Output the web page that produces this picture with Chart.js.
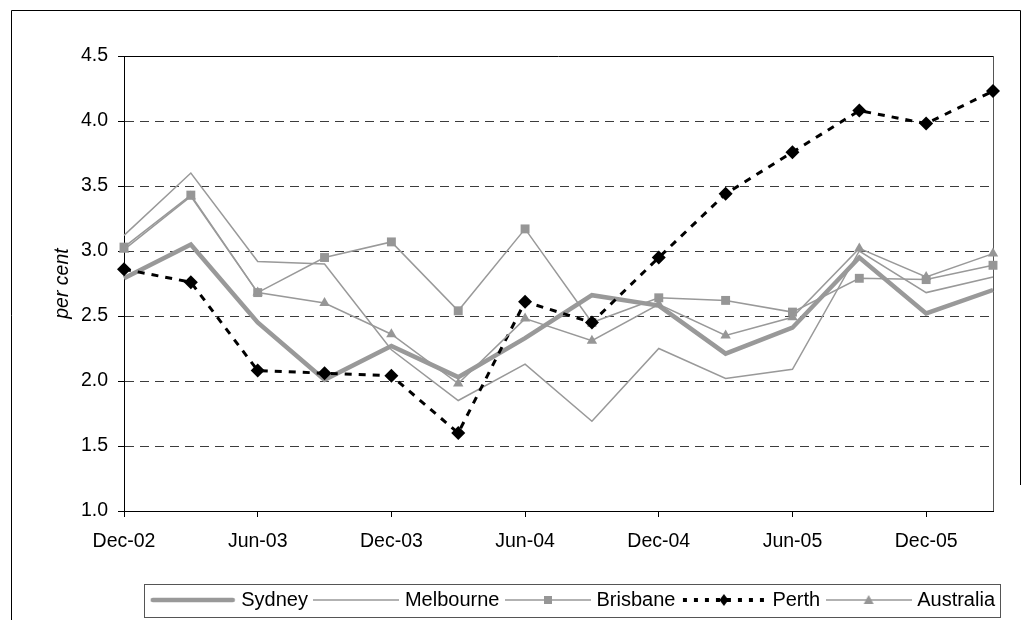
<!DOCTYPE html>
<html>
<head>
<meta charset="utf-8">
<script src="https://cdn.jsdelivr.net/npm/chart.js@4/dist/chart.umd.min.js"></script>
<style>
  html, body { margin: 0; padding: 0; background: #ffffff; }
  canvas { display: block; }
</style>
</head>
<body>
<canvas id="chart" width="1030" height="620"></canvas>
<script>
// Quarterly categories, Dec-02 to Mar-06
const quarters = ['Dec-02', 'Mar-03', 'Jun-03', 'Sep-03', 'Dec-03', 'Mar-04', 'Jun-04',
                  'Sep-04', 'Dec-04', 'Mar-05', 'Jun-05', 'Sep-05', 'Dec-05', 'Mar-06'];
// Category labels printed under the axis (every second quarter)
const shownQuarterTicks = ['Dec-02', 'Jun-03', 'Dec-03', 'Jun-04', 'Dec-04', 'Jun-05', 'Dec-05'];
// Value axis ticks (per cent)
const yTickValues = [1.0, 1.5, 2.0, 2.5, 3.0, 3.5, 4.0, 4.5];

// Series, per cent
const sydney    = [2.79, 3.05, 2.45, 2.01, 2.27, 2.03, 2.33, 2.66, 2.58, 2.21, 2.41, 2.95, 2.52, 2.70];
const melbourne = [3.12, 3.60, 2.92, 2.90, 2.24, 1.85, 2.13, 1.69, 2.25, 2.02, 2.09, 3.00, 2.68, 2.80];
const brisbane  = [3.03, 3.43, 2.68, 2.95, 3.07, 2.54, 3.17, 2.45, 2.64, 2.62, 2.53, 2.79, 2.78, 2.89];
const perth     = [2.86, 2.76, 2.08, 2.06, 2.04, 1.60, 2.61, 2.45, 2.95, 3.44, 3.76, 4.08, 3.98, 4.23];
const australia = [3.01, 3.42, 2.68, 2.60, 2.36, 1.98, 2.48, 2.31, 2.59, 2.35, 2.49, 3.02, 2.80, 2.98];

const FONT = "'Liberation Sans', Arial, Helvetica, sans-serif";
const GREY = '#999999';
const MARK = '#969696';

// Legend samples: line segment with the series marker in the middle
const SAMPLE_BOX = 77;
const SAMPLE_W = SAMPLE_BOX + 9;
function legendSample(draw) {
  const c = document.createElement('canvas');
  c.width = SAMPLE_W;
  c.height = 16;
  const g = c.getContext('2d');
  draw(g, c.width, c.height / 2);
  return c;
}
const samples = [
  legendSample((g, w, m) => {
    g.strokeStyle = GREY; g.lineWidth = 4.5; g.lineCap = 'round';
    g.beginPath(); g.moveTo(3, m); g.lineTo(w - 3, m); g.stroke();
  }),
  legendSample((g, w, m) => {
    g.strokeStyle = GREY; g.lineWidth = 1.5;
    g.beginPath(); g.moveTo(0, m); g.lineTo(w, m); g.stroke();
  }),
  legendSample((g, w, m) => {
    g.strokeStyle = GREY; g.lineWidth = 1.5;
    g.beginPath(); g.moveTo(0, m); g.lineTo(w, m); g.stroke();
    g.fillStyle = MARK; g.fillRect(w / 2 - 4, m - 4, 8, 8);
  }),
  legendSample((g, w, m) => {
    g.strokeStyle = '#000'; g.lineWidth = 4; g.setLineDash([4, 7]);
    g.beginPath(); g.moveTo(2, m); g.lineTo(w, m); g.stroke();
    g.fillStyle = '#000';
    g.beginPath(); g.moveTo(w / 2, m - 6); g.lineTo(w / 2 + 4.5, m); g.lineTo(w / 2, m + 6); g.lineTo(w / 2 - 4.5, m); g.closePath(); g.fill();
  }),
  legendSample((g, w, m) => {
    g.strokeStyle = GREY; g.lineWidth = 1.5;
    g.beginPath(); g.moveTo(0, m); g.lineTo(w, m); g.stroke();
    g.fillStyle = MARK;
    g.beginPath(); g.moveTo(w / 2, m - 5); g.lineTo(w / 2 + 5, m + 4); g.lineTo(w / 2 - 5, m + 4); g.closePath(); g.fill();
  })
];

// Outer frame of the chart object, white page behind it
const outerFrame = {
  id: 'outerFrame',
  beforeDraw(chart) {
    const ctx = chart.ctx;
    ctx.save();
    ctx.fillStyle = '#ffffff';
    ctx.fillRect(0, 0, chart.width, chart.height);
    ctx.strokeStyle = '#000';
    ctx.lineWidth = 1;
    ctx.beginPath();
    ctx.moveTo(11.5, chart.height);
    ctx.lineTo(11.5, 10.5);
    ctx.lineTo(1020.5, 10.5);
    ctx.lineTo(1020.5, 485);
    ctx.stroke();
    ctx.restore();
  }
};

// Top and right edges of the plot area
const plotFrame = {
  id: 'plotFrame',
  beforeDatasetsDraw(chart) {
    const {ctx, chartArea: a} = chart;
    ctx.save();
    ctx.lineWidth = 1;
    ctx.strokeStyle = '#000';
    ctx.beginPath();
    ctx.moveTo(a.left, Math.round(a.top) + 0.5);
    ctx.lineTo(a.right, Math.round(a.top) + 0.5);
    ctx.stroke();
    ctx.strokeStyle = '#555';
    ctx.beginPath();
    ctx.moveTo(Math.round(a.right) + 0.5, a.top);
    ctx.lineTo(Math.round(a.right) + 0.5, a.bottom);
    ctx.stroke();
    ctx.restore();
  }
};

// Box round the legend entries
const legendFrame = {
  id: 'legendFrame',
  afterDraw(chart) {
    const hb = chart.legend && chart.legend.legendHitBoxes;
    if (!hb || !hb.length) return;
    const first = hb[0], last = hb[hb.length - 1];
    const left = Math.round(first.left - (SAMPLE_W - SAMPLE_BOX) / 2 - 6) + 0.5;
    const right = Math.round(last.left + last.width + 5) + 0.5;
    const mid = first.top + first.height / 2;
    const top = Math.round(mid - 16) + 0.5;
    const bottom = Math.round(mid + 17) + 0.5;
    const ctx = chart.ctx;
    ctx.save();
    ctx.strokeStyle = '#555';
    ctx.lineWidth = 1;
    ctx.strokeRect(left, top, right - left, bottom - top);
    ctx.restore();
  }
};

const thin = { borderColor: GREY, backgroundColor: MARK, borderWidth: 1.5 };

new Chart(document.getElementById('chart'), {
  type: 'line',
  data: {
    labels: quarters,
    datasets: [
      { label: 'Sydney', data: sydney, order: 5, borderColor: GREY, borderWidth: 4.5,
        pointRadius: 0, pointHoverRadius: 0 },
      { label: 'Melbourne', data: melbourne, order: 4, ...thin,
        pointRadius: 0, pointHoverRadius: 0 },
      { label: 'Brisbane', data: brisbane, order: 3, ...thin,
        pointStyle: 'rect', pointRadius: 6.3, pointHoverRadius: 6.3,
        pointBorderWidth: 0, pointBackgroundColor: MARK },
      { label: 'Perth', data: perth, order: 2, borderColor: '#000', borderWidth: 3,
        borderDash: [7, 7], pointStyle: 'rectRot', pointRadius: 7, pointHoverRadius: 7,
        pointBorderWidth: 0, pointBackgroundColor: '#000' },
      { label: 'Australia', data: australia, order: 1, ...thin,
        pointStyle: 'triangle', pointRadius: 6, pointHoverRadius: 6,
        pointBorderWidth: 0, pointBackgroundColor: MARK }
    ]
  },
  options: {
    responsive: false,
    animation: false,
    devicePixelRatio: 1,
    events: [],
    layout: { padding: { left: 40, top: 56, right: 25, bottom: 0 } },
    elements: {
      line: { tension: 0, borderJoinStyle: 'miter', fill: false },
    },
    datasets: { line: { clip: false } },
    scales: {
      x: {
        type: 'category',
        offset: false,
        afterFit(s) { s.height = 69; },
        grid: {
          display: true,
          drawOnChartArea: false,
          drawTicks: true,
          tickLength: 6,
          color: (c) => (c.index % 2 === 0 ? '#000' : 'rgba(0,0,0,0)'),
          tickColor: (c) => (c.index % 2 === 0 ? '#000' : 'rgba(0,0,0,0)')
        },
        border: { display: true, color: '#000', width: 1 },
        ticks: {
          autoSkip: false, maxRotation: 0, minRotation: 0, padding: 13,
          color: '#000', font: { family: FONT, size: 19.5 },
          callback(v, i) {
            const lab = quarters[i];
            return shownQuarterTicks.includes(lab) ? lab : '';
          }
        }
      },
      y: {
        position: 'left',
        min: yTickValues[0],
        max: yTickValues[yTickValues.length - 1],
        afterBuildTicks(s) { s.ticks = yTickValues.map((v) => ({ value: v })); },
        afterFit(s) { s.width = 84; },
        grid: {
          color: (c) => (c.tick && c.tick.value === yTickValues[0] ? 'rgba(0,0,0,0)' : '#3c3c3c'),
          lineWidth: 1,
          tickLength: 6,
          tickColor: '#000',
          tickBorderDash: []
        },
        border: { display: true, color: '#000', width: 1, dash: [9, 6] },
        ticks: {
          padding: 10, color: '#000',
          font: { family: FONT, size: 19.5 },
          callback: (v) => Number(v).toFixed(1)
        },
        title: {
          display: true, text: 'per cent', color: '#000',
          padding: { top: 11, bottom: 0 },
          font: { family: FONT, size: 19.5, style: 'italic' }
        }
      },
      yRight: {
        position: 'right',
        display: true,
        afterFit(s) { s.width = 12; },
        grid: { display: false, drawTicks: false },
        border: { display: false },
        ticks: { display: false }
      }
    },
    plugins: {
      tooltip: { enabled: false },
      title: { display: false },
      legend: {
        display: true,
        position: 'bottom',
        align: 'end',
        fullSize: true,
        labels: {
          usePointStyle: true,
          pointStyleWidth: SAMPLE_BOX,
          padding: 10,
          color: '#000',
          font: { family: FONT, size: 20 },
          sort: (a, b) => a.datasetIndex - b.datasetIndex,
          generateLabels(chart) {
            const items = Chart.defaults.plugins.legend.labels.generateLabels(chart);
            items.forEach((it) => { it.pointStyle = samples[it.datasetIndex]; });
            return items;
          }
        }
      }
    }
  },
  plugins: [outerFrame, plotFrame, legendFrame]
});
</script>
</body>
</html>
